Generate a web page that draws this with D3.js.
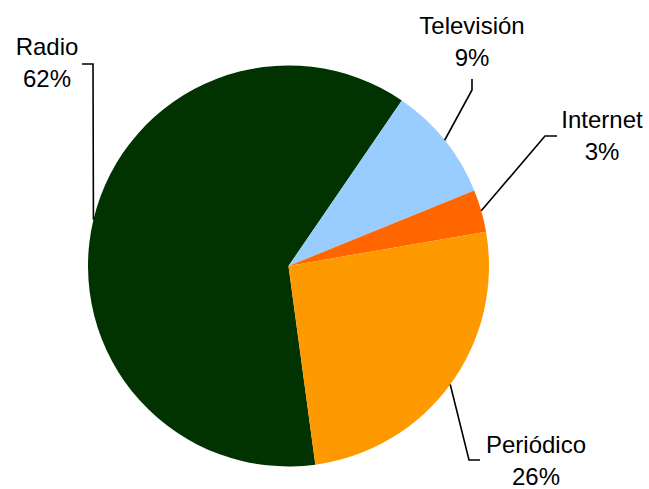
<!DOCTYPE html>
<html>
<head>
<meta charset="utf-8">
<script src="https://cdn.jsdelivr.net/npm/d3@7"></script>
<style>
  html, body { margin: 0; padding: 0; background: #fff; }
  svg { display: block; }
  text { font-family: "Liberation Sans", Arial, sans-serif; font-size: 24px; fill: #000; }
</style>
</head>
<body>
<svg id="chart" width="649" height="489"></svg>
<script>
// ---- data ----
const categories = ["Radio", "Televisión", "Internet", "Periódico"];
const values = [61.7, 9.3, 3.4, 25.6];
const colors = ["#003300", "#99CCFF", "#FF6600", "#FF9900"];

// ---- layout ----
const W = 649, H = 489;
const cx = 288.5, cy = 266, R = 200.5;
const startDeg = 172.3;
// label anchor (centre x, first baseline y) and leader elbow / end per slice
const labelLayout = [
  { x: 47,  y: 55,  elbow: [93, 64],   end: [82, 64] },
  { x: 472, y: 34,  elbow: [472, 90],  end: [472, 79] },
  { x: 602, y: 128, elbow: [545, 136], end: [557, 136] },
  { x: 536, y: 453, elbow: [469, 460], end: [480, 460] }
];
const lineGap = 32;

const svg = d3.select("#chart");
const g = svg.append("g").attr("transform", `translate(${cx},${cy})`);

const total = d3.sum(values);
const data = categories.map((c, i) => ({ name: c, value: values[i], color: colors[i], i }));

const pie = d3.pie()
  .value(d => d.value)
  .sort(null)
  .startAngle(startDeg * Math.PI / 180)
  .endAngle(startDeg * Math.PI / 180 + 2 * Math.PI);

const arc = d3.arc().innerRadius(0).outerRadius(R);
const arcs = pie(data);

g.selectAll("path.slice")
  .data(arcs)
  .join("path")
  .attr("class", "slice")
  .attr("d", arc)
  .attr("fill", d => d.data.color)
  .attr("stroke", "none");

// leader lines
arcs.forEach(a => {
  const L = labelLayout[a.data.i];
  const mid = (a.startAngle + a.endAngle) / 2;
  const p0 = [cx + Math.sin(mid) * R, cy - Math.cos(mid) * R];
  svg.append("polyline")
    .attr("points", [p0, L.elbow, L.end].map(p => p.join(",")).join(" "))
    .attr("fill", "none")
    .attr("stroke", "#000")
    .attr("stroke-width", 1.6);
});

// labels
arcs.forEach(a => {
  const L = labelLayout[a.data.i];
  const pct = Math.round(a.data.value / total * 100) + "%";
  const t = svg.append("text").attr("text-anchor", "middle");
  t.append("tspan").attr("x", L.x).attr("y", L.y).text(a.data.name);
  t.append("tspan").attr("x", L.x).attr("y", L.y + lineGap).text(pct);
});
</script>
</body>
</html>
